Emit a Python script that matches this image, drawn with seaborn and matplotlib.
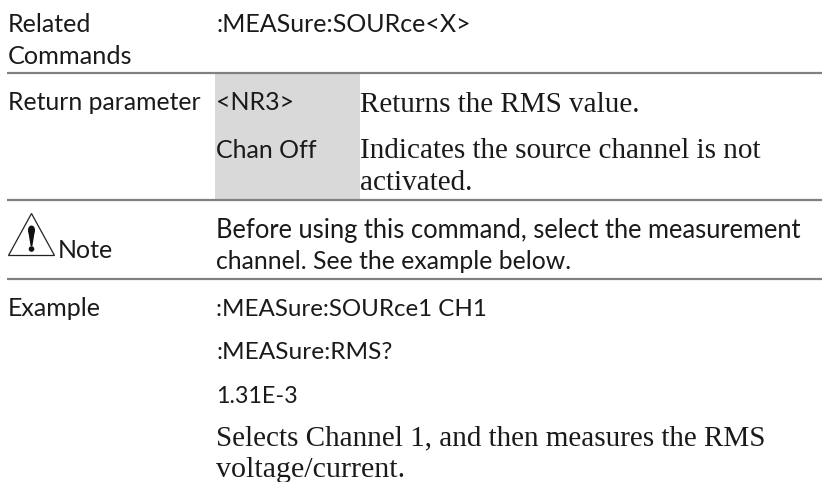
import matplotlib
matplotlib.use("Agg")
import matplotlib.pyplot as plt
from matplotlib.patches import Polygon, Ellipse
import seaborn as sns

# page text, one list per font
SANS_TEXT = [
    "Related", "Commands", ":MEASure:SOURce<X>",
    "Return parameter", "<NR3>", "Chan Off",
    "Note", "Before using this command, select the measurement",
    "channel. See the example below.",
    "Example", ":MEASure:SOURce1 CH1", ":MEASure:RMS?", "1.31E-3",
]
SERIF_TEXT = [
    "Returns the RMS value.",
    "Indicates the source channel is not",
    "activated.",
    "Selects Channel 1, and then measures the RMS",
    "voltage/current.",
]

# layout, in page pixels (left, baseline, font size)
SANS_POS = [
    (8, 32.5, 18), (8, 64, 18.2), (216, 32.5, 18),
    (8, 110, 17.8), (216, 110, 18), (216, 157.5, 18),
    (58, 258, 18), (216, 238, 18.4), (216, 269, 17.8),
    (8, 316, 18), (216, 316, 17.4), (216, 359, 17.6), (216, 403, 16.8),
]
SERIF_POS = [
    (360, 112.5, 21), (360, 158, 21), (360, 190.5, 21),
    (216, 445, 21), (216, 477, 21.6),
]
RULES_Y = [73, 200, 279]
GREY_BOX = (215, 360, 74, 199)
TRIANGLE = [(31.5, 213.5), (8.5, 255.5), (54.5, 255.5)]
MARK_STEM = [(28, 230), (35, 230), (32.4, 246), (30.6, 246)]

sns.set_theme(style="white")
plt.rcParams["font.family"] = ["Lato", "DejaVu Sans"]

fig = plt.figure(figsize=(8.22, 4.82), dpi=100)
ax = fig.add_axes([0, 0, 1, 1])
ax.set_xlim(0, 822)
ax.set_ylim(482, 0)
ax.axis("off")

ax.fill_between(GREY_BOX[:2], GREY_BOX[2], GREY_BOX[3], color="#d9d9d9", linewidth=0)
for y in RULES_Y:
    ax.plot([7, 822], [y, y], color="#808080", linewidth=1.6, solid_capstyle="butt")

# warning sign
ax.add_patch(Polygon(TRIANGLE, closed=True, fill=False, edgecolor="#222222", linewidth=0.9))
ax.add_patch(Polygon(MARK_STEM, closed=True, color="#111111", linewidth=0))
ax.add_patch(Ellipse((31.5, 230), 7, 9, color="#111111", linewidth=0))
ax.add_patch(Ellipse((31.5, 249), 5.6, 5.6, color="#111111", linewidth=0))

for s, (x, y, size) in zip(SANS_TEXT, SANS_POS):
    ax.text(x, y, s, fontsize=size, color="#1a1a1a", ha="left", va="baseline")
for s, (x, y, size) in zip(SERIF_TEXT, SERIF_POS):
    ax.text(x, y, s, fontsize=size, color="#1a1a1a", ha="left", va="baseline",
            family="Liberation Serif")

fig.savefig("out.png", dpi=100)
plt.close(fig)
